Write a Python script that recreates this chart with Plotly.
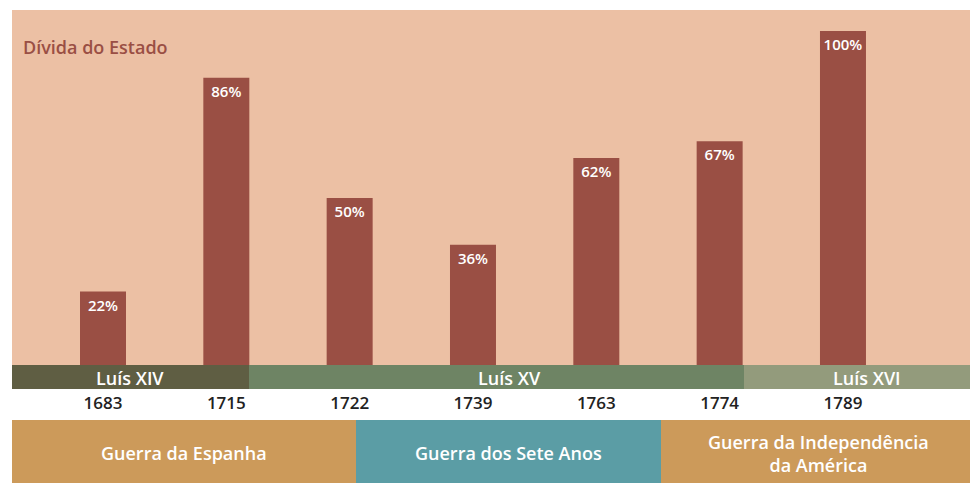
import plotly.graph_objects as go

years = ["1683", "1715", "1722", "1739", "1763", "1774", "1789"]
debt = [22, 86, 50, 36, 62, 67, 100]
kings = ["Luís XIV", "Luís XV", "Luís XVI"]
wars = ["Guerra da Espanha", "Guerra dos Sete Anos", "Guerra da Independência<br>da América"]

OFF = 8  # page body margin
W, H = 978 - OFF, 483 - OFF
BAR = "#9A4F44"
PEACH = "#ECC0A4"
FONT = "'Open Sans', Lato, sans-serif"

def px_x(p):
    return (p - OFF) / W

def px_y(p):
    return 1 - (p - OFF) / H

STEP = 123.33
C0 = 103 - OFF
x0 = (0 - C0) / STEP
x1 = (W - C0) / STEP
ymax = (365 - 10) / 334 * 100

fig = go.Figure()
fig.add_trace(go.Bar(
    x=list(range(len(years))), y=debt,
    width=46 / STEP,
    marker=dict(color=BAR, line=dict(width=0)),
    text=[f"{v}%" for v in debt],
    textposition="inside", insidetextanchor="end",
    textfont=dict(color="white", size=15, family=FONT, weight=600),
    constraintext="none",
    cliponaxis=False,
    hoverinfo="skip",
))

shapes = []
shapes.append(dict(type="rect", xref="paper", yref="paper", x0=px_x(12), x1=px_x(975),
                   y0=px_y(365), y1=px_y(10), fillcolor=PEACH, line_width=0, layer="below"))
king_bounds = [(12, 249, "#5F5E43"), (249, 744, "#6E8464"), (744, 975, "#939B7C")]
king_label_x = [130, 509, 867]
annotations = []
for (a, b, c), name, lx in zip(king_bounds, kings, king_label_x):
    shapes.append(dict(type="rect", xref="paper", yref="paper", x0=px_x(a), x1=px_x(b),
                       y0=px_y(389), y1=px_y(365), fillcolor=c, line_width=0, layer="above"))
    annotations.append(dict(x=px_x(lx), y=px_y(378), xref="paper", yref="paper", text=name,
                            showarrow=False, font=dict(color="white", size=18, family=FONT, weight=600),
                            xanchor="center", yanchor="middle"))
war_bounds = [(12, 356, "#CC9A5A"), (356, 661, "#5B9DA5"), (661, 975, "#CC9A5A")]
for (a, b, c), name in zip(war_bounds, wars):
    shapes.append(dict(type="rect", xref="paper", yref="paper", x0=px_x(a), x1=px_x(b),
                       y0=0, y1=px_y(420), fillcolor=c, line_width=0))
    annotations.append(dict(x=px_x((a + b) / 2), y=px_y(453), xref="paper", yref="paper", text=name,
                            showarrow=False, font=dict(color="white", size=18, family=FONT, weight=600),
                            xanchor="center", yanchor="middle"))
annotations.append(dict(x=px_x(21), y=px_y(47), xref="paper", yref="paper",
                        text="Dívida do Estado", showarrow=False,
                        font=dict(color=BAR, size=18, family=FONT, weight=600),
                        xanchor="left", yanchor="middle"))

fig.update_layout(
    width=W, height=H,
    margin=dict(l=0, r=0, t=0, b=0),
    paper_bgcolor="white", plot_bgcolor="rgba(0,0,0,0)",
    showlegend=False,
    shapes=shapes, annotations=annotations,
    xaxis=dict(range=[x0, x1], domain=[0, 1], tickvals=list(range(len(years))), ticktext=years,
               showgrid=False, zeroline=False, showline=False, ticks="",
               tickfont=dict(color="#222222", size=17, family=FONT, weight=600),
               ticklabelstandoff=26, fixedrange=True),
    yaxis=dict(range=[0, ymax], domain=[px_y(365), px_y(10)], visible=False, fixedrange=True),
)

fig.write_html("out.html")
